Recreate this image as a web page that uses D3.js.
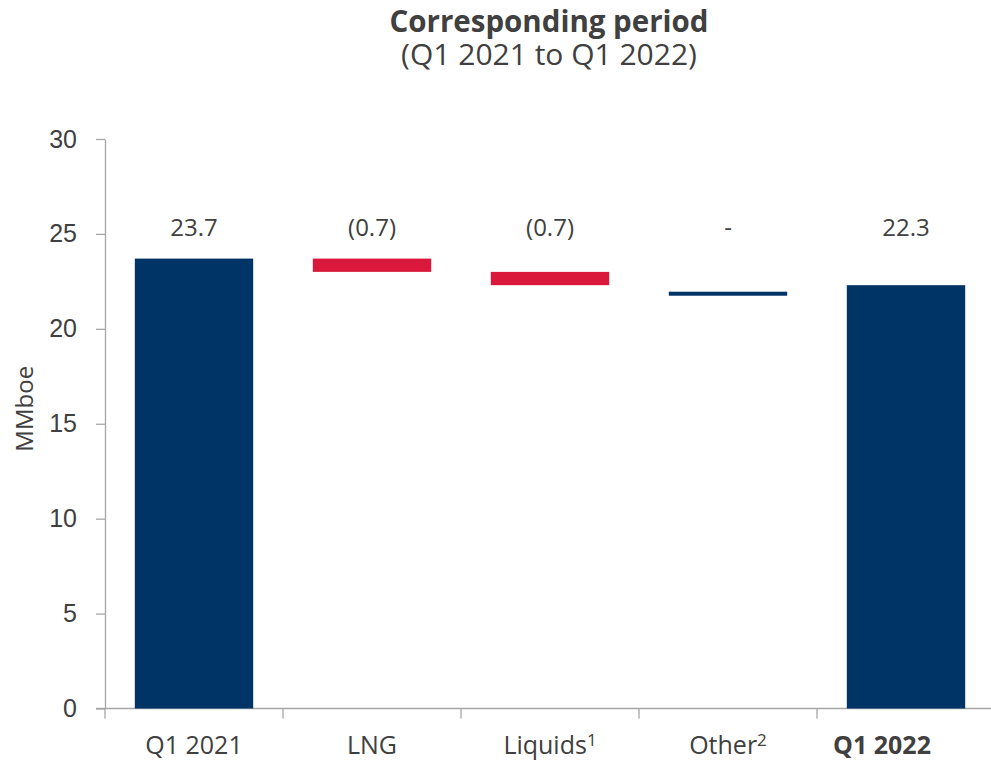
<!DOCTYPE html>
<html>
<head>
<meta charset="utf-8">
<script src="https://cdn.jsdelivr.net/npm/d3@7"></script>
<style>
  body { margin: 0; background: #fff; }
  svg { display: block; font-family: "Open Sans", "Noto Sans", sans-serif; }
</style>
</head>
<body>
<svg id="chart" width="991" height="764"></svg>
<script>
// waterfall data
const categories = ["Q1 2021", "LNG", "Liquids", "Other", "Q1 2022"];
const superscripts = ["", "", "1", "2", ""];
const barStart = [0, 23.7, 23.0, 21.85, 0];
const barEnd = [23.7, 23.0, 22.3, 21.85, 22.3];
const barKind = ["total", "decrease", "decrease", "none", "total"];
const valueLabels = ["23.7", "(0.7)", "(0.7)", "-", "22.3"];
const yTicks = [0, 5, 10, 15, 20, 25, 30];

const navy = "#003366";
const red = "#d9183b";
const textCol = "#404040";
const axisCol = "#a6a6a6";

const svg = d3.select("#chart");

const x = d3.scaleBand()
  .domain(categories)
  .range([105, 995])
  .padding(0);

const y = d3.scaleLinear()
  .domain([0, 30])
  .range([708.5, 139]);

// two-line title in one text element
const title = svg.append("text")
  .attr("y", 32)
  .attr("text-anchor", "middle")
  .attr("fill", textCol);
title.append("tspan")
  .attr("x", 549)
  .style("font-size", "29.5px").style("font-weight", "bold")
  .text("Corresponding period");
title.append("tspan")
  .attr("x", 549).attr("dy", 33)
  .style("font-size", "30px")
  .text("(Q1 2021 to Q1 2022)");

// y axis
const yAxis = svg.append("g")
  .attr("transform", "translate(105,0)")
  .call(d3.axisLeft(y).tickValues(yTicks).tickSize(9).tickSizeOuter(0).tickPadding(19));
yAxis.selectAll("path, line").attr("stroke", axisCol).attr("stroke-width", 1.3);
yAxis.selectAll("text").attr("fill", textCol).style("font-size", "25px");

svg.append("text")
  .attr("transform", `translate(33,${(y(0) + y(30)) / 2 - 15}) rotate(-90)`)
  .attr("text-anchor", "middle")
  .attr("fill", textCol)
  .style("font-size", "24px")
  .text("MMboe");

// x axis: line plus boundary ticks
const xAxis = svg.append("g").attr("transform", `translate(0,${y(0)})`);
xAxis.append("line")
  .attr("x1", 96).attr("x2", 991)
  .attr("stroke", axisCol).attr("stroke-width", 1.3);
const bounds = categories.map(c => x(c)).concat([x.range()[1]]);
xAxis.selectAll(".bt")
  .data(bounds)
  .join("line")
  .attr("x1", d => d).attr("x2", d => d)
  .attr("y1", 0).attr("y2", 10)
  .attr("stroke", axisCol).attr("stroke-width", 1.3);

const xl = xAxis.selectAll(".xl")
  .data(categories)
  .join("text")
  .attr("x", d => x(d) + x.bandwidth() / 2)
  .attr("dx", (d, i) => i === categories.length - 1 ? -24 : 0)
  .attr("y", 45.5)
  .attr("text-anchor", "middle")
  .attr("fill", textCol)
  .style("font-size", "25px")
  .style("font-weight", (d, i) => i === categories.length - 1 ? "bold" : "normal");
xl.append("tspan").text(d => d);
xl.append("tspan")
  .attr("dy", -8)
  .style("font-size", "17px")
  .text((d, i) => superscripts[i]);

// bars
const barW = x.bandwidth() * 0.665;
svg.append("g")
  .selectAll("rect")
  .data(categories)
  .join("rect")
  .attr("x", d => x(d) + (x.bandwidth() - barW) / 2)
  .attr("width", barW)
  .attr("y", (d, i) => {
    const top = y(Math.max(barStart[i], barEnd[i]));
    return barKind[i] === "none" ? top - 2 : top;
  })
  .attr("height", (d, i) => Math.max(Math.abs(y(barStart[i]) - y(barEnd[i])), 4))
  .attr("fill", (d, i) => barKind[i] === "decrease" ? red : navy);

// value labels
svg.append("g")
  .selectAll("text")
  .data(categories)
  .join("text")
  .attr("x", d => x(d) + x.bandwidth() / 2)
  .attr("y", 236)
  .attr("text-anchor", "middle")
  .attr("fill", textCol)
  .style("font-size", "24px")
  .text((d, i) => valueLabels[i]);
</script>
</body>
</html>
